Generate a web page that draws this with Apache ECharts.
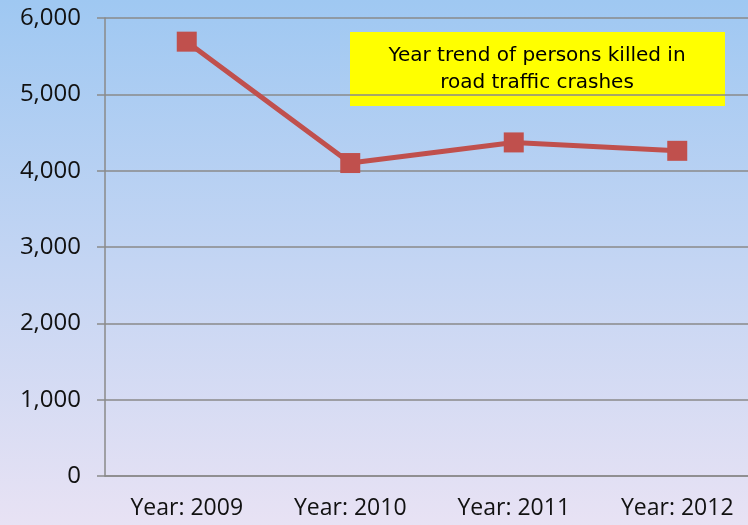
<!DOCTYPE html>
<html>
<head>
<meta charset="utf-8">
<script src="https://cdn.jsdelivr.net/npm/echarts@6/dist/echarts.min.js"></script>
<style>
  html, body { margin: 0; padding: 0; overflow: hidden; }
  #chart { width: 760px; height: 525px; }
</style>
</head>
<body>
<div id="chart"></div>
<script>
var years = ['Year: 2009', 'Year: 2010', 'Year: 2011', 'Year: 2012']
var killed = [5690, 4100, 4370, 4260]
var titleLines = ['Year trend of persons killed in', 'road traffic crashes']

// plot area runs a little past the right edge of the 748px window, as in the source
var chart = echarts.init(document.getElementById('chart'))

var option = {
  animation: false,
  backgroundColor: new echarts.graphic.LinearGradient(0, 0, 0, 1, [
    { offset: 0, color: '#9fc8f2' },
    { offset: 1, color: '#e8e2f4' }
  ]),
  grid: { left: 105, top: 18, width: 654, bottom: 49, containLabel: false },
  xAxis: {
    type: 'category',
    data: years,
    boundaryGap: true,
    axisLine: { lineStyle: { color: '#8a8a8a', width: 1.5 } },
    axisTick: { length: 8, lineStyle: { color: '#8a8a8a', width: 1.5 } },
    axisLabel: { color: '#111', fontFamily: 'Open Sans', fontSize: 23, margin: 21 }
  },
  yAxis: {
    type: 'value',
    min: 0,
    max: 6000,
    interval: 1000,
    axisLine: { show: true, lineStyle: { color: '#8a8a8a', width: 1.5 } },
    axisTick: { show: true, length: 8, lineStyle: { color: '#8a8a8a', width: 1.5 } },
    splitLine: { lineStyle: { color: '#8a8a8a', width: 1.5 } },
    axisLabel: {
      color: '#111', fontFamily: 'Open Sans', fontSize: 24, margin: 24,
      formatter: function (v) { return v.toLocaleString('en-US') }
    }
  },
  series: [{
    type: 'line',
    data: killed,
    symbol: 'rect',
    symbolSize: 20,
    lineStyle: { color: '#c0504d', width: 5 },
    itemStyle: { color: '#c0504d' }
  }],
  graphic: [{
    type: 'group',
    left: 350,
    top: 32,
    children: [{
      type: 'rect',
      shape: { x: 0, y: 0, width: 375, height: 74 },
      style: { fill: '#ffff00' }
    }, {
      type: 'text',
      x: 187,
      y: 37,
      style: {
        text: titleLines.join('\n'),
        fill: '#000',
        font: '20px "DejaVu Sans"',
        align: 'center',
        verticalAlign: 'middle',
        lineHeight: 27
      }
    }]
  }]
}

chart.setOption(option)
</script>
</body>
</html>
